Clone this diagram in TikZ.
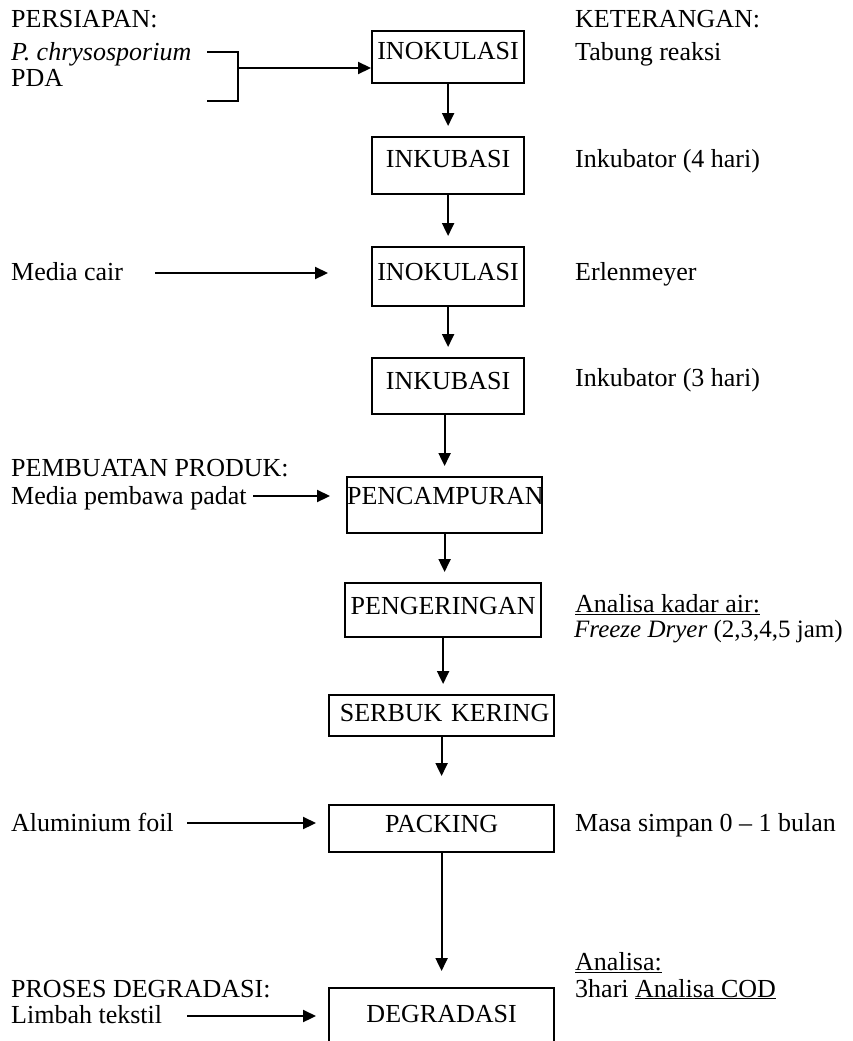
\documentclass[tikz,border=0pt]{standalone}
\usepackage{fontspec}
\setmainfont{Liberation Serif}
\usetikzlibrary{arrows.meta}
\newcommand\fs{\fontsize{26}{30}\selectfont}
\newcommand\fsb{\fontsize{25}{30}\selectfont}
\tikzset{
  ln/.style={line width=2.2pt},
  arr/.style={ln, -{Triangle[length=13pt,width=12pt]}},
  pbox/.style={draw, line width=2.2pt, inner sep=0pt, anchor=north west, align=center, font=\fs},
  lbl/.style={inner sep=0pt, anchor=base west, font=\fs},
}
\begin{document}
\begin{tikzpicture}[x=1pt,y=-1pt]
\useasboundingbox (0,0) rectangle (852,1041);
% process boxes
\node[pbox, text width=152pt, text height=28pt, text depth=24pt] (b1) at (371,30) {INOKULASI};
\node[pbox, text width=152pt, text height=30pt, text depth=27pt] (b2) at (371,136) {INKUBASI};
\node[pbox, text width=152pt, text height=33pt, text depth=26pt] (b3) at (371,246) {INOKULASI};
\node[pbox, text width=152pt, text height=31pt, text depth=25pt] (b4) at (371,357) {INKUBASI};
\node[pbox, text width=195pt, text height=27pt, text depth=29pt] (b5) at (346,476) {PENCAMPURAN};
\node[pbox, text width=196pt, text height=31pt, text depth=23pt] (b6) at (344,582) {PENGERINGAN};
\node[pbox, text width=225pt, text height=26pt, text depth=15pt] (b7) at (328,694) {\hspace*{6pt}SERBUK KERING};
\node[pbox, text width=225pt, text height=27pt, text depth=20pt] (b8) at (328,804) {PACKING};
\node[pbox, text width=225pt, text height=34pt, text depth=29pt] (b9) at (328,987) {DEGRADASI};
% left texts
\node[lbl] (persiapan) at (11,28) {PERSIAPAN:};
\node[lbl] (pchry) at (11,60) {\textit{P. chrysosporium}};
\node[lbl] (pda) at (11,86) {PDA};
\node[lbl] (mcair) at (11,280) {Media cair};
\node[lbl] (pembuatan) at (11,476) {PEMBUATAN PRODUK:};
\node[lbl] (mpadat) at (11,504) {Media pembawa padat};
\node[lbl] (alfoil) at (11,831) {Aluminium foil};
\node[lbl] (proses) at (11,997) {PROSES DEGRADASI:};
\node[lbl] (limbah) at (11,1023) {Limbah tekstil};
% right texts
\node[lbl] (ket) at (575,28) {KETERANGAN:};
\node[lbl] (tabung) at (575,60) {Tabung reaksi};
\node[lbl] (ink4) at (575,167) {Inkubator (4 hari)};
\node[lbl] (erl) at (575,280) {Erlenmeyer};
\node[lbl] (ink3) at (575,386) {Inkubator (3 hari)};
\node[lbl] (akadar) at (575,612) {\underline{Analisa kadar air:}};
\node[lbl, font=\fsb] (freeze) at (574,637) {\textit{Freeze Dryer} (2,3,4,5 jam)};
\node[lbl] (masa) at (575,831) {Masa simpan 0 – 1 bulan};
\node[lbl] (analisa) at (575,970) {\underline{Analisa:}};
\node[lbl] (cod) at (575,997) {3hari \underline{Analisa COD}};
% bracket
\coordinate (brA) at (207,52);
\coordinate (brB) at (207,101);
\coordinate (brC) at (238,52);
\coordinate (brD) at (238,101);
\coordinate (brM) at (238,68);
\draw[ln] (brA) -- (brC) -- (brD) -- (brB);
\draw[arr] (brM) -- (brM -| b1.west);
% input arrows
\coordinate (mcS) at (155,273);
\coordinate (mcE) at (328,273);
\draw[arr] (mcS) -- (mcE);
\coordinate (mpS) at (253,496);
\coordinate (mpE) at (330,496);
\draw[arr] (mpS) -- (mpE);
\coordinate (afS) at (187,823);
\coordinate (afE) at (316,823);
\draw[arr] (afS) -- (afE);
\coordinate (ltS) at (187,1016);
\coordinate (ltE) at (316,1016);
\draw[arr] (ltS) -- (ltE);
% flow arrows
\draw[arr, shorten >=10pt] (b1.south) -- (b2.north);
\draw[arr, shorten >=10pt] (b2.south) -- (b3.north);
\draw[arr, shorten >=10pt] (b3.south) -- (b4.north);
\draw[arr, shorten >=10pt] (b4.south -| b5.north) -- (b5.north);
\draw[arr, shorten >=10pt] (b5.south) -- (b5.south |- b6.north);
\draw[arr, shorten >=10pt] (b6.south) -- (b6.south |- b7.north);
\draw[arr, shorten >=28pt] (b7.south) -- (b8.north);
\draw[arr, shorten >=16pt] (b8.south) -- (b9.north);
\end{tikzpicture}
\end{document}
